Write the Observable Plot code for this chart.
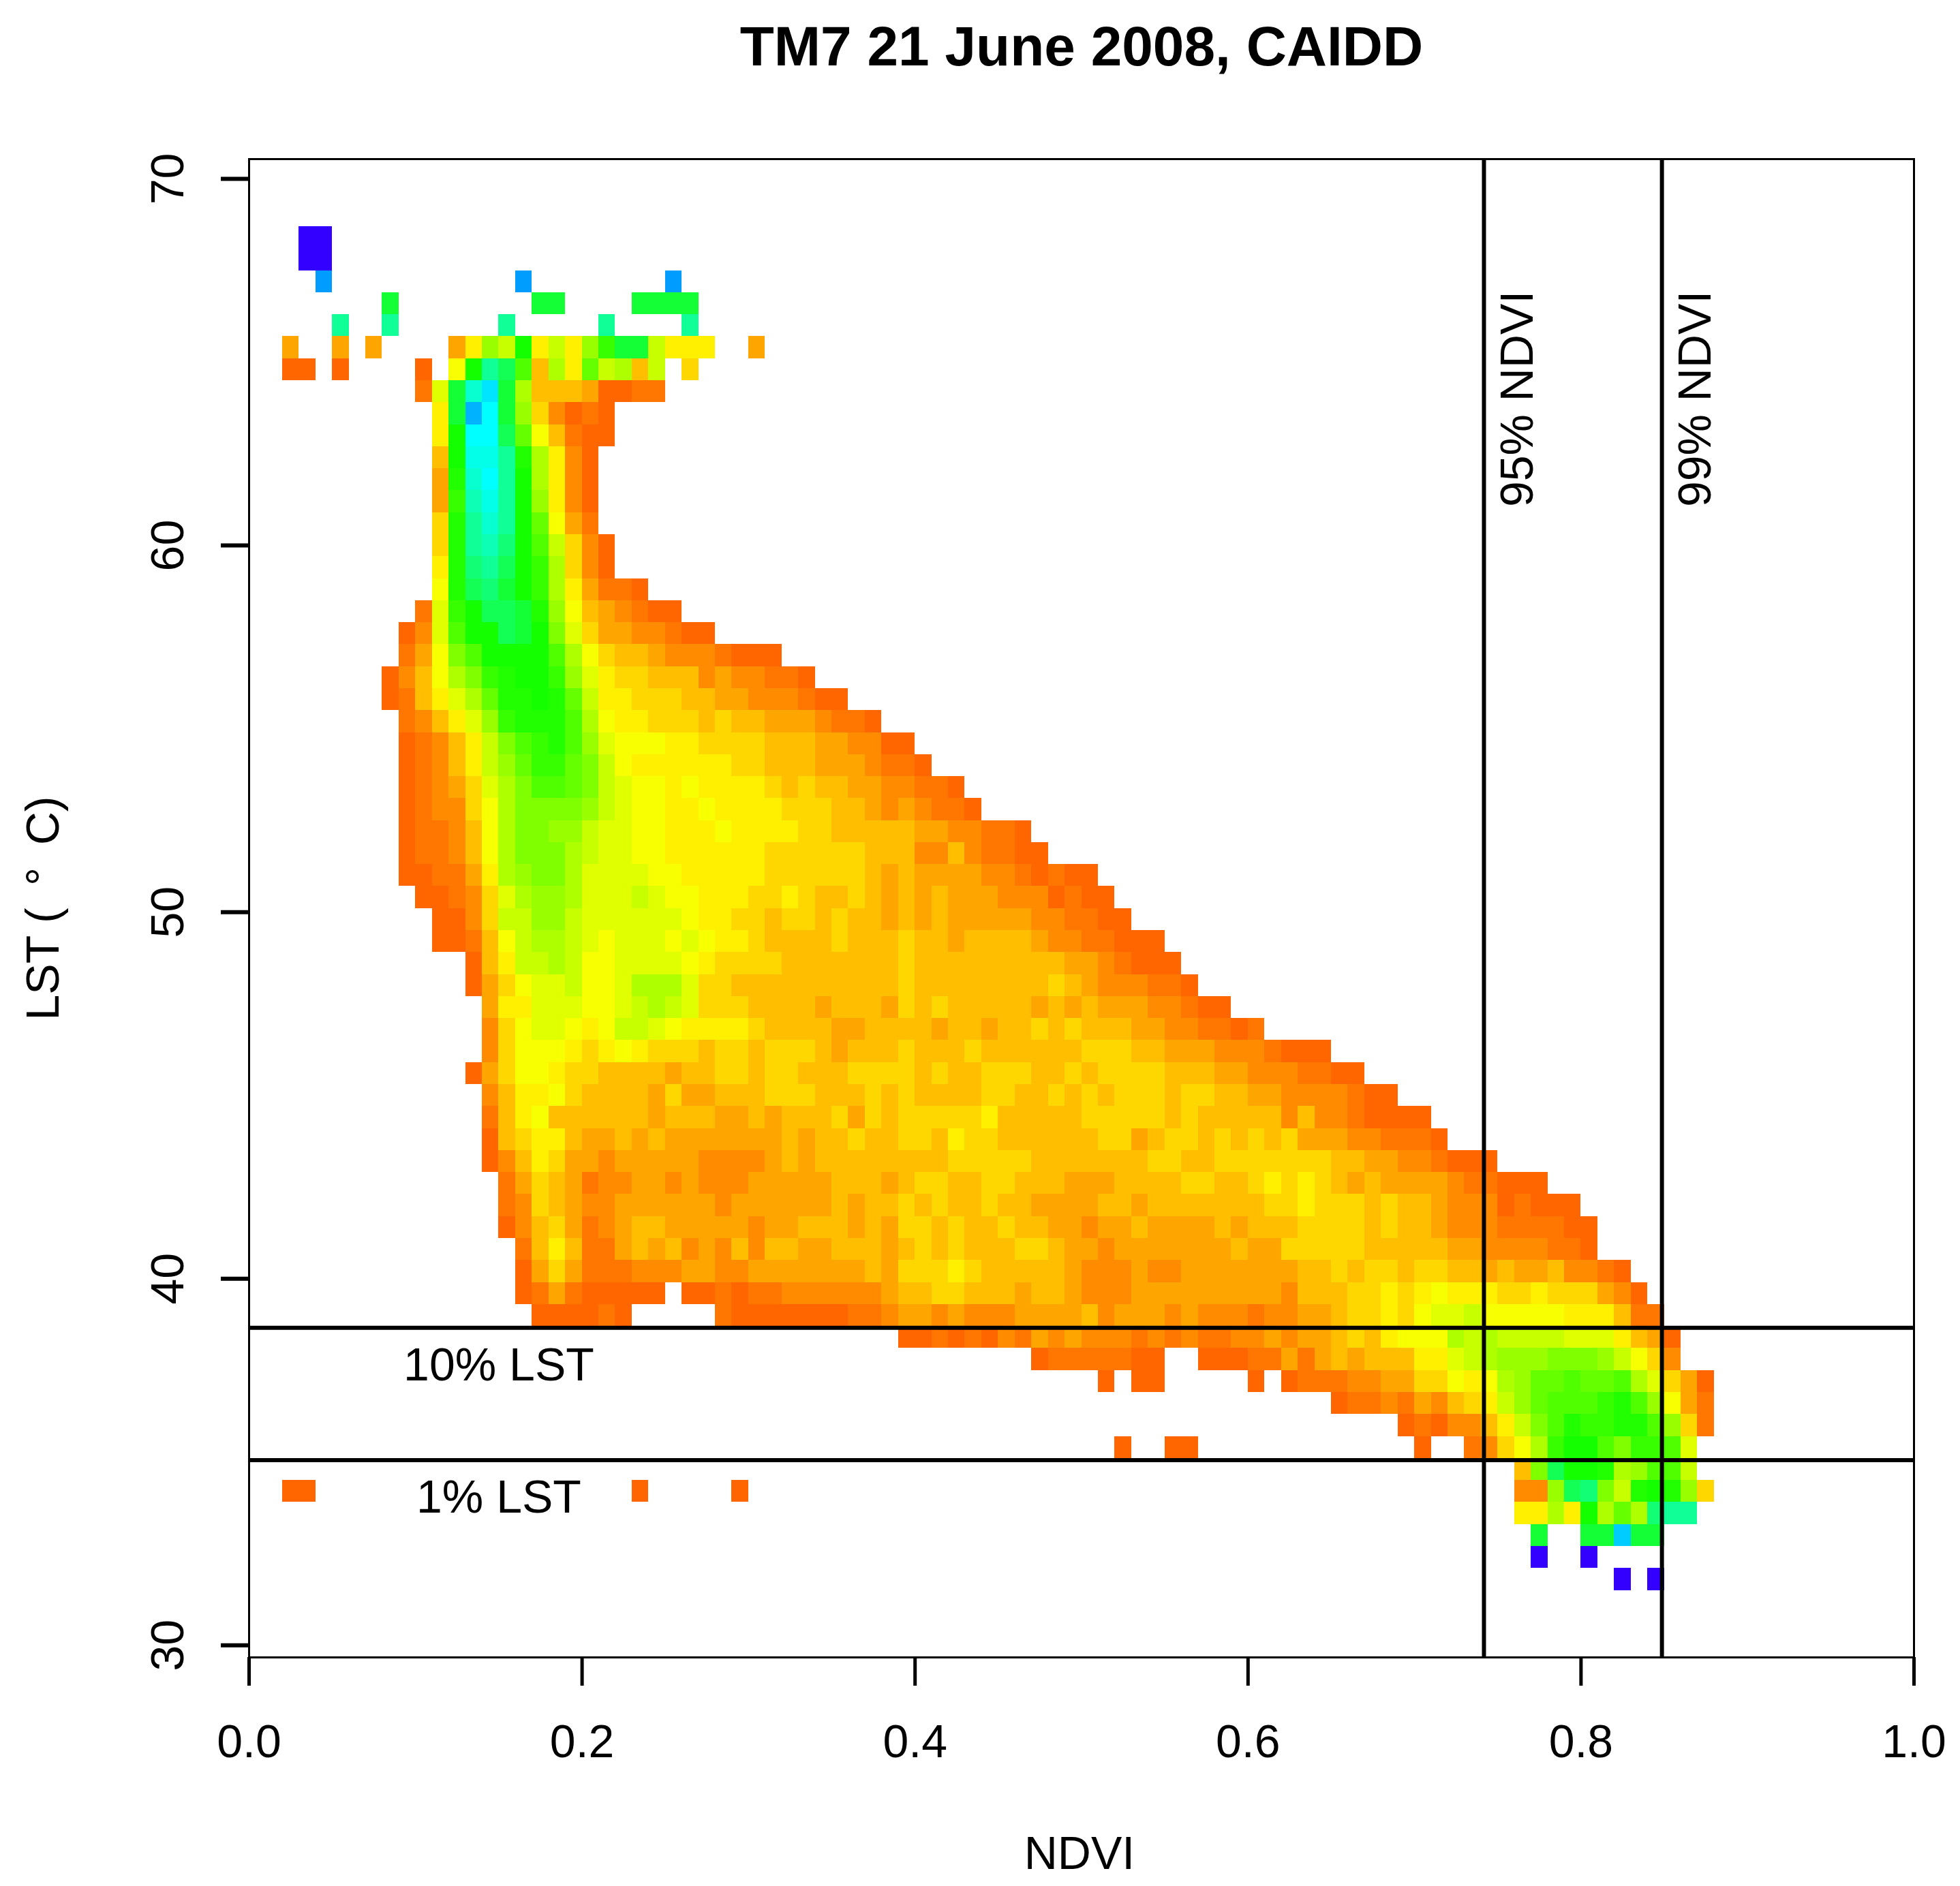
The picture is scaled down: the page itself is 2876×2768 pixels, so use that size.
<!DOCTYPE html>
<html>
<head>
<meta charset="utf-8">
<script src="https://cdn.jsdelivr.net/npm/d3@7"></script>
<script src="https://cdn.jsdelivr.net/npm/@observablehq/plot@0.6"></script>
<style>
  html, body { margin: 0; padding: 0; background: white; }
  #chart svg { display: block; }
</style>
</head>
<body>
<div id="chart"></div>
<script>
// colour classes of the 2D histogram, low count (orange) to high count (blue)
const levelCodes = '0123456789abcdefghijklmnopqrstu'.split('')
const levelColors = [
  '#FF6600', '#FF7700', '#FF8C00', '#FFA500', '#FFBF00', '#FFD700', '#FFF000', '#F8FF00',
  '#E0FF00', '#C8FF00', '#AEFF00', '#99FF00', '#80FF00', '#66FF00', '#50FF00', '#38FF00',
  '#22FF00', '#14FF00', '#14FF36', '#14FF55', '#12FF75', '#10FF97', '#0CFFB5', '#08FFD0',
  '#04FFE8', '#00FFFF', '#00E5FF', '#00CCFF', '#00B2FF', '#009CFF', '#3300FF'
]

// bins
const ndviStep = 0.01
const lstStep = 0.6
const lstFirst = 31.5

// first NDVI bin (in hundredths) of each LST row, row 0 = coolest
const rowStart = [
  82, 77, 77, 76, 2, 76, 52, 69, 65, 51, 47, 39, 17, 16, 16, 16,
  15, 15, 15, 14, 14, 14, 14, 13, 14, 14, 14, 13, 13, 11, 11, 10,
  9, 9, 9, 9, 9, 9, 9, 9, 8, 8, 9, 9, 10,
  11, 11, 11, 11, 11, 11, 11, 11, 11, 10, 2, 2, 5, 8, 4, 3, 3
]

// class of each bin along the row, '.' = empty
const rowCells = [
  'u.u',
  'u..u',
  'i .. ii r ii',
  '66 a 6 h a d a k ll',
  '00 ................... 0 ..... 0 .......... .......... .......... .......... ...... 22 b j k c 9 g h g b 5',
  '4 c j hh g a b ee 9',
  '0 .. 00 ............. 0 .. 1 2 5 7 a f hh e c ff e 8',
  '0 1 0 22 4 6 9 c e g ff gg e b 5 1',
  '0 11 2 1 3 2 4 5 6 9 b d eee f g e b 7 3 1',
  '0 . 00 ..... 0 . 0 111 22 33 55 7 6 7 a b dd e dd e a 8 5 3 0',
  '0 11111 00 .. 000 11 3 1 3 4 3 444 66 8 9 a bbb ccc b 9 7 5 2',
  '00 1 0 1 0 2 1 3 2 3 222 1 2 1 2 11 22 3 2 33 4 5 4 6 777 a 9 a 9999 888 6 4 3 0',
  '0000 1 0 ..... 1 0000000 11 2 33 2 3 222 3333 4 2 333 2 3 222 1 22 33 4 55 6 5 7 88 9 77777 666 4 11',
  '0 1 3 1 00000 . 00 1 0 11 222222 3 44 55 444 3 44 3 222 333333333 2 444 55 6 5 6 7 66 6 55 6 555 3 2 0',
  '0 3 5 3 111 222 33 22 3333333 4 3 555 6 5 44444 3 222 3 22 3333333 44 5 4 55 4 55 44 3 4 33 4 22 1 0',
  '1 4 6 4 11 3 4 3 4 2 3 2 4 2 44 33 444 3 4 5 4 5 444 55 4 33 2 3333333 4 33 55555 44444 33 2222 11 0',
  '0 2 4 5 3 1 2 3 44 33333 2 33 444 3 4 3 55 4 5 44 5 44 33 2 33 4 3333 4 3 444 5555 4 5 44 3 222 1111 00',
  '1 2 5 4 3 22 333333 2 333333 4 3 44 5 4 5 44 5 44 3333 44 3 4444444 55 6 555 4 5 44 3 222 0 1 000',
  '1 3 5 4 3 1 22 33 2 3 222 33333 444 3 4 55 44 55 444 333 4444 55 44 5 6 5 6 5 4 3 4 3333 2 11 000',
  '0 2 4 6 5 33 2 33333 2222 3 4 3 44444444 55555 4444444 55 44 5555555 44 33 22 1 000',
  '0 4 5 66 4 33 4 3 4 3333333 4 3 44 5 44 55 4 6 55 444444 55 3 4 55 4 5 4 5 4 5 333 22 111 0',
  '1 4 6 7 444444 3 444 33 4 3 444 5 3 5 4 55555 6 44444 55555 4 5 44444 2 4 22 1 0000',
  '2 4 66 7 5 4444 3 5 33 444 555 4 44 5 4 5 4444 55 44 5 4 5 4 555 4 55 44 33 2222 1 00',
  '0 3 5 77 6 55 4444 3 44 55 4 55 444 5555 4 5 44 555 44 5 4 5555 444 33 222 11 00',
  '2 5 777 6 5 6 7 6 555 4 55 4 555 4 3 444 5 444 5 444444 555 44 333 222 1 000',
  '2 5 7 88 7 6 7 99 8 7 6666 5 4444 33 4444 3 44 3 44 5 4 5 444 33 22 11 0 1',
  '3 66 888 77 8 9 a 9 8 555 4444 3 444 3 5 4 5 44444 3 4 3 4 333 22 1 00',
  '0 3 5 7 88 9 77 8 aaa 8 55 4444444444 5 44444444 5 4 3 222 11 0',
  '0 4 6 99 a 9 77 8888 7 6 5555 4444444 5 444444444 33 2 1 000',
  '00 1 4 7 9 aa 9 8 7 888 7 8 7 66 5 4444 5 444 5 44 3 4444 3 22 11 000',
  '00 2 5 99 bb 9 888888 7 66 55 4 55 4 5 44 3 4 3 4 33333 22 11 00',
  '00 1 2 5 8 a bb a 888 9 8 77 666 55 6 5 44 5 4 3 4 3 4 333 222 0 1 00',
  '00 11 3 6 a b cc a 8888 77 66666 555555 4 3 4 3333 22 1 0 1 00',
  '0 11 2 4 7 a ccc a 9 88 77 666666 555555 444 22 4 2 11 00',
  '0 11 2 4 7 a cc bb 9 88 77 666 7 6666 55 44444 33 22 11 0',
  '0 1 22 5 7 a cccc b 9 8 77 66 7 6666 555 44 3 2 3 2 11 0',
  '0 1 2 3 5 8 a c ee d c 9 8 77 6 7 6666 5 4 5 44 33 22 11 0',
  '0 1 2 4 6 9 b d ff d c 9 7 666666 55 444 333 2 11 0',
  '0 1 2 4 6 9 c e f g e b 8 777 66 5555 444 33 22 00',
  '1 2 4 6 8 b f ggg e a 7 66 555 4 5 44 333 2 11 0',
  '0 1 4 6 8 a d gg h g d 9 66 555 44 33 222 1 00',
  '0 2 4 7 a c f g hh f b 8 6 55 444 2 3 22 11 0',
  '1 3 7 c e hhhh e a 7 5 44 3 222 1 000',
  '0 2 8 e hh j i h c 8 5 33 22 1 00',
  '1 8 f h jj i g b 7 4 3 2 1 00',
  '7 g j k i h f a 6 3 11 0',
  '6 g k l j h f a 5 2 0',
  '5 g l m k h e 9 5 2 0',
  '5 g l n l h d 7 3 1',
  '3 f m o l h b 6 2 0',
  '3 g n p l h a 6 2 0',
  '4 h oo l g a 6 2 0',
  '6 h pp j d 7 4 1 00',
  '6 i s p i b 5 2 0 1 0',
  '1 8 i n q i a 444 3 00 11',
  '00 . 0 .... 0 . 7 h l j e 4 a 6 d 9 a 4 9 . 5',
  '3 .. 3 . 3 .... 3 6 b 9 h 6 9 6 b f ii 9 666 .. 3',
  'l .. l ...... l ..... l .... l',
  'i ........ ii .... iiii',
  't ........... t ........ t',
  'uu',
  'uu'
]

// percentile thresholds and axis ticks
const ndviLines = [0.7417, 0.8486]
const lstLines = [38.66, 35.05]
const xTicks = [0, 0.2, 0.4, 0.6, 0.8, 1]
const yTicks = [30, 40, 50, 60, 70]
const notes = [
  { ndvi: 0.762, lst: 64, label: '95% NDVI', rotate: -90 },
  { ndvi: 0.869, lst: 64, label: '99% NDVI', rotate: -90 },
  { ndvi: 0.15, lst: 37.63, label: '10% LST', rotate: 0 },
  { ndvi: 0.15, lst: 34.03, label: '1% LST', rotate: 0 }
]

const cells = []
rowCells.forEach((row, r) => {
  row.replace(/ /g, '').split('').forEach((code, i) => {
    if (code === '.') return
    const c = rowStart[r] + i
    cells.push({
      x1: c * ndviStep,
      x2: (c + 1) * ndviStep,
      y1: lstFirst + r * lstStep,
      y2: lstFirst + (r + 1) * lstStep,
      level: code
    })
  })
})

const font = 68

const chart = Plot.plot({
  width: 2876,
  height: 2768,
  marginLeft: 365,
  marginRight: 68,
  marginTop: 233,
  marginBottom: 336,
  x: { domain: [0, 1], axis: null },
  y: { domain: [29.67, 70.54], axis: null },
  color: { type: 'ordinal', domain: levelCodes, range: levelColors },
  style: { fontFamily: '"Liberation Sans", Arial, sans-serif', background: 'white', color: 'black' },
  marks: [
    Plot.rect(cells, { x1: 'x1', x2: 'x2', y1: 'y1', y2: 'y2', fill: 'level', shapeRendering: 'crispEdges' }),
    Plot.ruleX(ndviLines, { stroke: 'black', strokeWidth: 6 }),
    Plot.ruleY(lstLines, { stroke: 'black', strokeWidth: 6 }),
    Plot.frame({ stroke: 'black', strokeWidth: 3 }),
    Plot.axisX(xTicks, {
      tickSize: 42,
      tickPadding: 56,
      strokeWidth: 5,
      fontSize: font,
      label: null,
      tickFormat: d3.format('.1f')
    }),
    Plot.axisY(yTicks, { tickSize: 41, strokeWidth: 6, tickFormat: () => '', label: null }),
    Plot.text(yTicks, {
      y: d => d,
      text: d => String(d),
      frameAnchor: 'left',
      textAnchor: 'middle',
      dx: -97,
      rotate: -90,
      lineAnchor: 'bottom',
      fontSize: font
    }),
    Plot.text(notes, {
      x: 'ndvi',
      y: 'lst',
      text: 'label',
      rotate: 'rotate',
      lineAnchor: 'middle',
      fontSize: font
    }),
    Plot.text(['TM7 21 June 2008, CAIDD'], {
      frameAnchor: 'top',
      dy: -138,
      lineAnchor: 'bottom',
      fontSize: 82,
      fontWeight: 'bold'
    }),
    Plot.text(['NDVI'], {
      frameAnchor: 'bottom',
      dx: -3,
      dy: 310,
      lineAnchor: 'bottom',
      fontSize: font
    }),
    Plot.text(['LST (\u00a0\u2009\u00b0\u2009\u00a0C)'], {
      frameAnchor: 'left',
      textAnchor: 'middle',
      dx: -280,
      rotate: -90,
      lineAnchor: 'bottom',
      fontSize: font
    })
  ]
})

d3.select('#chart').append(() => chart)
</script>
</body>
</html>
